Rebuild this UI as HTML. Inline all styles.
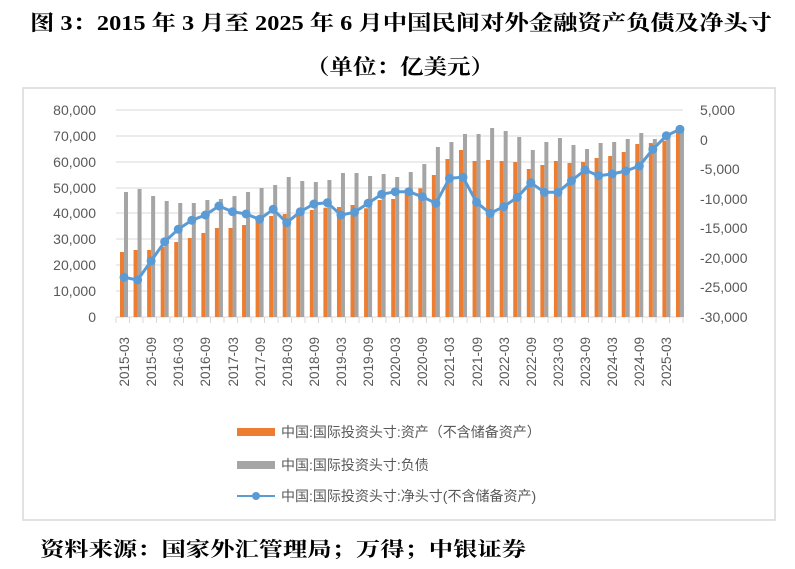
<!DOCTYPE html>
<html><head><meta charset="utf-8"><style>
body{margin:0;background:#fff;width:795px;height:569px;overflow:hidden}
svg{display:block}
</style></head><body>
<svg id="s" width="795" height="569" xmlns="http://www.w3.org/2000/svg">
<text x="30" y="30" textLength="742" lengthAdjust="spacingAndGlyphs" font-family="'Liberation Serif','Noto Serif CJK SC',serif" font-weight="bold" font-size="21" fill="#000">图 3：2015 年 3 月至 2025 年 6 月中国民间对外金融资产负债及净头寸</text>
<text x="306" y="74" textLength="188" lengthAdjust="spacingAndGlyphs" font-family="'Liberation Serif','Noto Serif CJK SC',serif" font-weight="bold" font-size="21" fill="#000">（单位：亿美元）</text>
<rect x="23" y="88" width="752" height="432" fill="none" stroke="#d9d9d9" stroke-width="1.5"/>
<g id="grid" stroke="#d9d9d9" stroke-width="1"></g>
<g id="bars"></g>
<g font-family="'Liberation Sans',sans-serif" font-size="14" fill="#595959" text-anchor="end">
<text x="96" y="115">80,000</text><text x="96" y="141">70,000</text><text x="96" y="167">60,000</text><text x="96" y="193">50,000</text><text x="96" y="218">40,000</text><text x="96" y="244">30,000</text><text x="96" y="270">20,000</text><text x="96" y="296">10,000</text><text x="96" y="322">0</text>
</g>
<g font-family="'Liberation Sans',sans-serif" font-size="14" fill="#595959" text-anchor="start">
<text x="700" y="115">5,000</text><text x="700" y="145">0</text><text x="700" y="174">-5,000</text><text x="700" y="204">-10,000</text><text x="700" y="233">-15,000</text><text x="700" y="263">-20,000</text><text x="700" y="292">-25,000</text><text x="700" y="322">-30,000</text>
</g>
<g font-family="'Liberation Sans',sans-serif" font-size="13.5" fill="#595959" text-anchor="end">
<text transform="translate(129,337) rotate(-90)">2015-03</text>
<text transform="translate(156,337) rotate(-90)">2015-09</text>
<text transform="translate(183,337) rotate(-90)">2016-03</text>
<text transform="translate(210,337) rotate(-90)">2016-09</text>
<text transform="translate(238,337) rotate(-90)">2017-03</text>
<text transform="translate(265,337) rotate(-90)">2017-09</text>
<text transform="translate(292,337) rotate(-90)">2018-03</text>
<text transform="translate(319,337) rotate(-90)">2018-09</text>
<text transform="translate(346,337) rotate(-90)">2019-03</text>
<text transform="translate(373,337) rotate(-90)">2019-09</text>
<text transform="translate(400,337) rotate(-90)">2020-03</text>
<text transform="translate(427,337) rotate(-90)">2020-09</text>
<text transform="translate(454,337) rotate(-90)">2021-03</text>
<text transform="translate(482,337) rotate(-90)">2021-09</text>
<text transform="translate(509,337) rotate(-90)">2022-03</text>
<text transform="translate(536,337) rotate(-90)">2022-09</text>
<text transform="translate(563,337) rotate(-90)">2023-03</text>
<text transform="translate(590,337) rotate(-90)">2023-09</text>
<text transform="translate(617,337) rotate(-90)">2024-03</text>
<text transform="translate(644,337) rotate(-90)">2024-09</text>
<text transform="translate(671,337) rotate(-90)">2025-03</text>
</g>
<rect x="237" y="428" width="38" height="8" fill="#ed7d31"/>
<rect x="237" y="461" width="38" height="8" fill="#a5a5a5"/>
<line x1="237" y1="496" x2="275" y2="496" stroke="#5b9bd5" stroke-width="2"/>
<circle cx="256" cy="496" r="4" fill="#5b9bd5"/>
<g font-family="'Liberation Sans','Noto Sans CJK SC',sans-serif" font-size="14" fill="#595959">
<text x="281" y="437">中国:国际投资头寸:资产（不含储备资产）</text>
<text x="281" y="470">中国:国际投资头寸:负债</text>
<text x="281" y="501">中国:国际投资头寸:净头寸(不含储备资产)</text>
</g>
<text x="40" y="556" textLength="486" lengthAdjust="spacingAndGlyphs" font-family="'Liberation Serif','Noto Serif CJK SC',serif" font-weight="bold" font-size="20" fill="#000">资料来源：国家外汇管理局；万得；中银证券</text>
</svg>
<script>
var NS="http://www.w3.org/2000/svg";
function el(t,a,p){var e=document.createElementNS(NS,t);for(var k in a)e.setAttribute(k,a[k]);p.appendChild(e);return e;}
var g=document.getElementById('grid');
[110,136,162,188,213,239,265,291].forEach(function(y){el('line',{x1:116,x2:683,y1:y,y2:y},g)});
el('line',{x1:116,x2:683,y1:317,y2:317},g);
for(var i=0;i<=42;i++){var x=116+i*13.5;el('line',{x1:x,x2:x,y1:317,y2:323},g);}
var o=[252,250,250,246.7,242,238,233,228,228,225,221.7,216,214,212,210,207.7,207,205,208.3,200,199,194,188.3,175,159,150,161,160,161,162,169,165,161,163,162,158,156,152,144,143,140.7,131.7];
var gr=[192,189,196,201,203,203,200,199,196,192,188,185,177,181,182,180,173,173,176,174,177,172,164,147,142,134,134,128,131,137,150,142,138,145,149,143,142,139,133,139,138,130];
var ln=[277.3,280,261,241.7,229.3,220.3,215,206,211.7,214,219.3,209.3,222.7,211.7,204,202.7,215,212.3,203.3,194.3,191.7,191.7,196.7,203.3,178.3,177.3,202.3,213.3,206.7,197.3,182.7,192.3,192.3,180.7,170,175.7,174,171,166,149.3,135.7,129.3];
var b=document.getElementById('bars'),pts=[];
for(var i=0;i<42;i++){var x=120+i*13.56;
el('rect',{x:x,y:o[i],width:4,height:317-o[i],fill:'#ed7d31'},b);
el('rect',{x:x+4,y:gr[i],width:4,height:317-gr[i],fill:'#a5a5a5'},b);
pts.push((x+4)+','+ln[i]);}
el('polyline',{points:pts.join(' '),fill:'none',stroke:'#5b9bd5','stroke-width':3,'stroke-linejoin':'round'},b);
for(var i=0;i<42;i++){el('circle',{cx:124+i*13.56,cy:ln[i],r:4.5,fill:'#5b9bd5'},b);}
</script>
</body></html>
